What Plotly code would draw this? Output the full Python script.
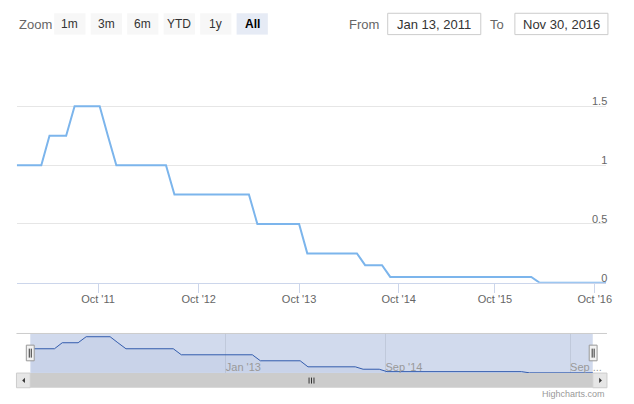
import plotly.graph_objects as go
import pandas as pd

# ---- data ----
months = pd.date_range("2011-01-01", "2016-12-01", freq="MS").strftime("%Y-%m-%d").tolist()
rates = [1.0, 1.0, 1.0, 1.0,
         1.25, 1.25, 1.25,
         1.5, 1.5, 1.5, 1.5,
         1.25,
         1.0, 1.0, 1.0, 1.0, 1.0, 1.0, 1.0,
         0.75, 0.75, 0.75, 0.75, 0.75, 0.75, 0.75, 0.75, 0.75, 0.75,
         0.5, 0.5, 0.5, 0.5, 0.5, 0.5,
         0.25, 0.25, 0.25, 0.25, 0.25, 0.25, 0.25,
         0.15, 0.15, 0.15,
         0.05, 0.05, 0.05, 0.05, 0.05, 0.05, 0.05, 0.05, 0.05, 0.05,
         0.05, 0.05, 0.05, 0.05, 0.05, 0.05, 0.05, 0.05,
         0.0, 0.0, 0.0, 0.0, 0.0, 0.0, 0.0, 0.0, 0.0]

x_tick_vals = ["2011-10-26", "2012-10-29", "2013-11-01", "2014-11-01", "2015-10-20", "2016-10-20"]
x_tick_text = ["Oct '11", "Oct '12", "Oct '13", "Oct '14", "Oct '15", "Oct '16"]
y_tick_vals = [0, 0.5, 1, 1.5]
y_tick_text = ["0", "0.5", "1", "1.5"]
nav_tick_vals = ["2013-01-19", "2014-09-25", "2016-09-04"]
nav_tick_text = ["Jan '13", "Sep '14", "Sep ..."]
zoom_buttons = ["1m", "3m", "6m", "YTD", "1y", "All"]
from_text = "Jan 13, 2011"
to_text = "Nov 30, 2016"

W, H = 634, 404
FONT = "Liberation Sans, Arial, sans-serif"


def X(px):
    return px / W


def Y(py):
    return 1 - py / H


fig = go.Figure()
fig.add_trace(go.Scatter(x=months, y=rates, mode="lines",
                         line=dict(color="#7cb5ec", width=2),
                         xaxis="x", yaxis="y", showlegend=False, hoverinfo="skip"))
fig.add_trace(go.Scatter(x=months, y=rates, mode="lines",
                         line=dict(color="#335cad", width=1),
                         fill="tozeroy", fillcolor="rgba(51,92,173,0.05)",
                         xaxis="x2", yaxis="y2", showlegend=False, hoverinfo="skip"))

shapes = []
annotations = []

# range selector buttons
bx0 = 55
for i, lab in enumerate(zoom_buttons):
    x0 = bx0 + 37 * i
    active = lab == "All"
    shapes.append(dict(type="rect", xref="paper", yref="paper",
                       x0=X(x0), x1=X(x0 + 31.7), y0=Y(34.7), y1=Y(13.3),
                       fillcolor="#e6ebf5" if active else "#f7f7f7", line=dict(width=0)))
    annotations.append(dict(xref="paper", yref="paper", x=X(x0 + 15.85), y=Y(24.3),
                            text=("<b>%s</b>" % lab) if active else lab, showarrow=False,
                            xanchor="center", yanchor="middle",
                            font=dict(family=FONT, size=12, color="#000000" if active else "#333333")))
annotations.append(dict(xref="paper", yref="paper", x=X(17.3), y=Y(24.3), text="Zoom",
                        showarrow=False, xanchor="left", yanchor="middle",
                        font=dict(family=FONT, size=13, color="#666666")))
annotations.append(dict(xref="paper", yref="paper", x=X(386), y=Y(24.3), text="From",
                        showarrow=False, xanchor="right", yanchor="middle",
                        font=dict(family=FONT, size=13, color="#666666")))
annotations.append(dict(xref="paper", yref="paper", x=X(513.5), y=Y(24.3), text="To",
                        showarrow=False, xanchor="right", yanchor="middle",
                        font=dict(family=FONT, size=13, color="#666666")))
for (x0, x1, txt) in [(393.3, 487.7, from_text), (522.3, 616.7, to_text)]:
    shapes.append(dict(type="rect", xref="paper", yref="paper",
                       x0=X(x0), x1=X(x1), y0=Y(34.7), y1=Y(13.3),
                       fillcolor="#ffffff", line=dict(color="#cccccc", width=1)))
    annotations.append(dict(xref="paper", yref="paper", x=X((x0 + x1) / 2), y=Y(24.3),
                            text=txt, showarrow=False, xanchor="center", yanchor="middle",
                            font=dict(family=FONT, size=13, color="#333333")))

# navigator
shapes.append(dict(type="rect", xref="paper", yref="paper", layer="below",
                   x0=X(30.7), x1=X(601.3), y0=Y(374), y1=Y(334.3),
                   fillcolor="rgba(102,133,194,0.3)", line=dict(width=0)))
shapes.append(dict(type="line", xref="paper", yref="paper",
                   x0=X(16.7), x1=X(615.7), y0=Y(334.3), y1=Y(334.3),
                   line=dict(color="#cccccc", width=1)))
# scrollbar
shapes.append(dict(type="rect", xref="paper", yref="paper",
                   x0=X(30.7), x1=X(601.3), y0=Y(388.7), y1=Y(374),
                   fillcolor="#cccccc", line=dict(width=0)))
for (x0, x1) in [(16.7, 30.7), (601.3, 615.7)]:
    shapes.append(dict(type="rect", xref="paper", yref="paper",
                       x0=X(x0), x1=X(x1), y0=Y(388.7), y1=Y(374),
                       fillcolor="#e6e6e6", line=dict(color="#cccccc", width=1)))
shapes.append(dict(type="path", xref="paper", yref="paper",
                   path="M %f %f L %f %f L %f %f Z" % (X(25.3), Y(378.8), X(22.5), Y(381.4), X(25.3), Y(384)),
                   fillcolor="#333333", line=dict(width=0)))
shapes.append(dict(type="path", xref="paper", yref="paper",
                   path="M %f %f L %f %f L %f %f Z" % (X(607.8), Y(378.8), X(610.6), Y(381.4), X(607.8), Y(384)),
                   fillcolor="#333333", line=dict(width=0)))
for rx in (313.5, 316, 318.5):
    shapes.append(dict(type="line", xref="paper", yref="paper",
                       x0=X(rx), x1=X(rx), y0=Y(378.5), y1=Y(384.5),
                       line=dict(color="#333333", width=1)))
# handles
for hx in (30.7, 601.7):
    shapes.append(dict(type="rect", xref="paper", yref="paper",
                       x0=X(hx - 4), x1=X(hx + 4), y0=Y(361.7), y1=Y(346),
                       fillcolor="#f2f2f2", line=dict(color="#999999", width=1)))
    for lx in (hx - 1, hx + 1):
        shapes.append(dict(type="line", xref="paper", yref="paper",
                           x0=X(lx), x1=X(lx), y0=Y(349.5), y1=Y(358.5),
                           line=dict(color="#333333", width=1)))

annotations.append(dict(xref="paper", yref="paper", x=X(615.7), y=Y(395), text="Highcharts.com",
                        showarrow=False, xanchor="right", yanchor="middle",
                        font=dict(family=FONT, size=9, color="#999999")))

fig.update_layout(
    width=W, height=H, autosize=False,
    margin=dict(l=0, r=0, t=0, b=0, pad=0),
    paper_bgcolor="#ffffff", plot_bgcolor="rgba(0,0,0,0)",
    font=dict(family=FONT, size=11, color="#666666"),
    showlegend=False,
    xaxis=dict(domain=[X(17), X(615)], range=[months[0], months[-1]], type="date",
               tickvals=x_tick_vals, ticktext=x_tick_text,
               ticks="outside", ticklen=9, tickcolor="#ccd6eb", tickwidth=1,
               ticklabelstandoff=-3, ticklabeloverflow="allow",
               showline=True, linecolor="#ccd6eb", linewidth=1,
               showgrid=False, zeroline=False, anchor="y",
               tickfont=dict(family=FONT, size=11, color="#666666"), fixedrange=True),
    yaxis=dict(domain=[Y(283.5), Y(50)], range=[0, 1.98],
               tickvals=y_tick_vals, ticktext=y_tick_text,
               side="right", ticklabelposition="inside", ticklabelshift=-5,
               ticklabelstandoff=-4, ticklabeloverflow="allow",
               showgrid=True, gridcolor="#e6e6e6", gridwidth=1,
               zeroline=False, showline=False, ticks="", anchor="x",
               tickfont=dict(family=FONT, size=11, color="#666666"), fixedrange=True),
    xaxis2=dict(domain=[X(31.5), X(601.5)], range=[months[0], months[-1]], type="date",
                tickvals=nav_tick_vals, ticktext=nav_tick_text,
                ticklabelposition="inside right", ticks="",
                ticklabelstandoff=-6, ticklabeloverflow="allow",
                showgrid=True, gridcolor="#c0c9db", gridwidth=1,
                showline=False, zeroline=False, anchor="y2",
                tickfont=dict(family=FONT, size=11, color="#999999"), fixedrange=True),
    yaxis2=dict(domain=[Y(374), Y(334.3)], range=[-0.01, 1.635],
                showgrid=False, showticklabels=False, zeroline=False, showline=False,
                anchor="x2", fixedrange=True),
    shapes=shapes,
    annotations=annotations,
)

fig.write_html("out.html", config={"displayModeBar": False, "responsive": False},
               post_script=("document.documentElement.style.margin='0px';"
                            "document.documentElement.style.overflow='hidden';"
                            "document.body.style.margin='0px';"
                            "document.body.style.padding='0px';"
                            "document.body.style.overflow='hidden';"))
